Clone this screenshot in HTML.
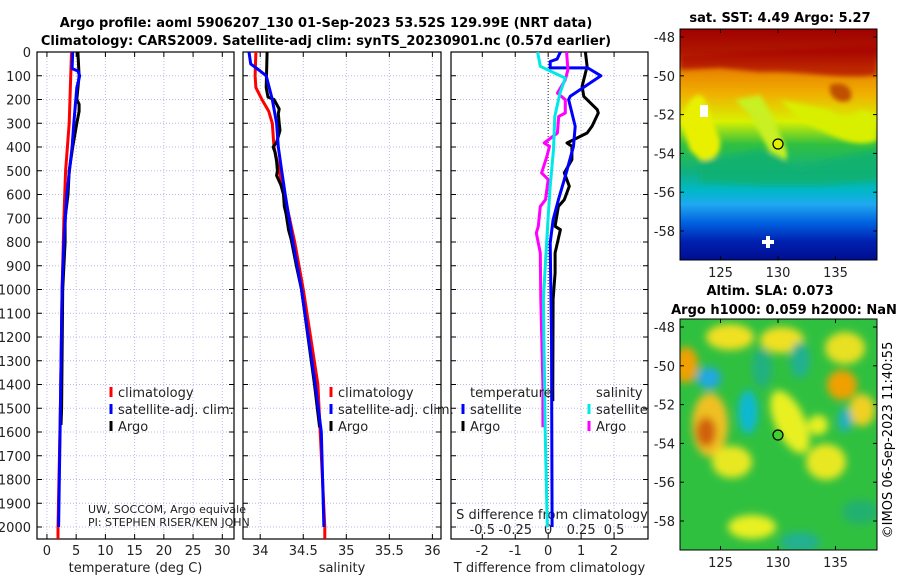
<!DOCTYPE html>
<html><head><meta charset="utf-8"><style>
body{margin:0;background:#fff}
svg{display:block;font-family:"DejaVu Sans","Liberation Sans",sans-serif}
</style></head><body>
<svg id="chart" width="900" height="580" viewBox="0 0 900 580" xmlns="http://www.w3.org/2000/svg">
<defs>
<linearGradient id="sstg" x1="0" y1="0" x2="0" y2="1">
<stop offset="0" stop-color="#a00000"/><stop offset="0.1" stop-color="#b01800"/>
<stop offset="0.17" stop-color="#e88000"/><stop offset="0.28" stop-color="#f0b000"/>
<stop offset="0.4" stop-color="#d8f000"/><stop offset="0.5" stop-color="#30c040"/>
<stop offset="0.62" stop-color="#10b080"/><stop offset="0.7" stop-color="#00b8c8"/>
<stop offset="0.76" stop-color="#20a8f0"/><stop offset="0.84" stop-color="#0060e0"/>
<stop offset="0.92" stop-color="#0020b0"/><stop offset="1" stop-color="#000e90"/>
</linearGradient>
<filter id="blur"><feGaussianBlur stdDeviation="4"/></filter>
<filter id="blur2"><feGaussianBlur stdDeviation="2.5"/></filter>
<clipPath id="c1"><rect x="680" y="29" width="197" height="231"/></clipPath>
<clipPath id="c2"><rect x="680" y="319" width="197" height="231"/></clipPath>
</defs>
<g id="plots"></g>
<!-- SST map -->
<g clip-path="url(#c1)">
<rect x="680" y="29" width="197" height="231" fill="url(#sstg)"/>
<g filter="url(#blur2)">
<path d="M680,55 L877,45 L877,75 C840,80 800,70 760,72 L720,68 L680,70 Z" fill="#a80800" opacity="0.7"/>
<path d="M830,85 C845,80 855,90 850,100 C840,105 828,98 830,85 Z" fill="#c05000"/>
<path d="M680,120 C690,95 700,90 705,100 L720,140 C722,155 712,162 700,160 L690,150 Z" fill="#e8f000"/>
<path d="M735,100 L760,95 L775,120 C780,140 790,150 786,160 L770,152 L750,115 Z" fill="#c8f020"/>
<path d="M780,100 L830,110 C840,120 850,120 860,110 L877,115 L877,140 C860,148 840,140 820,130 L800,120 Z" fill="#d8f000"/>
<path d="M700,162 L760,150 L800,170 L830,160 L877,150 L877,180 L820,185 L760,185 L700,182 Z" fill="#10b070" opacity="0.8"/>
</g>
<rect x="700" y="105" width="8" height="12" fill="#fff"/>
<rect x="766" y="236" width="4" height="12" fill="#fff"/><rect x="762" y="240" width="12" height="4" fill="#fff"/>
<circle cx="778" cy="144" r="5" fill="#e0f000" stroke="#000" stroke-width="1.2"/>
</g>
<rect x="680" y="29" width="197" height="231" fill="none" stroke="#000"/>
<!-- SLA map -->
<g clip-path="url(#c2)">
<rect x="680" y="319" width="197" height="231" fill="#30c040"/>
<g filter="url(#blur)">
<ellipse cx="730" cy="337" rx="24" ry="13" fill="#f0e020"/>
<ellipse cx="782" cy="340" rx="22" ry="13" fill="#f0e020"/>
<ellipse cx="845" cy="348" rx="20" ry="16" fill="#e8e020"/>
<ellipse cx="686" cy="365" rx="12" ry="18" fill="#f0a000"/>
<ellipse cx="709" cy="378" rx="12" ry="11" fill="#20a8e0"/>
<ellipse cx="762" cy="368" rx="10" ry="20" fill="#20b080"/>
<ellipse cx="800" cy="360" rx="10" ry="18" fill="#20b090"/>
<ellipse cx="842" cy="385" rx="15" ry="15" fill="#f0a000"/>
<ellipse cx="862" cy="410" rx="13" ry="16" fill="#f0d020"/>
<ellipse cx="710" cy="425" rx="18" ry="32" fill="#f0c020"/>
<ellipse cx="706" cy="432" rx="10" ry="15" fill="#d06010"/>
<ellipse cx="748" cy="412" rx="10" ry="22" fill="#10b8d0"/>
<ellipse cx="790" cy="422" rx="15" ry="34" fill="#e8f020" transform="rotate(-25 790 422)"/>
<ellipse cx="826" cy="462" rx="20" ry="18" fill="#e8e820"/>
<ellipse cx="732" cy="462" rx="20" ry="16" fill="#e8e820"/>
<ellipse cx="845" cy="420" rx="7" ry="12" fill="#20b0c0"/>
<ellipse cx="818" cy="425" rx="10" ry="10" fill="#e8f020"/>
<ellipse cx="752" cy="527" rx="24" ry="12" fill="#e8f020"/>
<ellipse cx="800" cy="542" rx="20" ry="10" fill="#20b090"/>
<ellipse cx="860" cy="512" rx="18" ry="12" fill="#20b070"/>
</g>
<circle cx="778" cy="435" r="5" fill="#40d030" stroke="#000" stroke-width="1.2"/>
</g>
<rect x="680" y="319" width="197" height="231" fill="none" stroke="#000"/>
<g font-size="13" font-weight="bold" text-anchor="middle">
<text x="326" y="27">Argo profile: aoml 5906207_130 01-Sep-2023 53.52S 129.99E (NRT data)</text>
<text x="326" y="45">Climatology: CARS2009. Satellite-adj clim: synTS_20230901.nc (0.57d earlier)</text>
<text x="780" y="22">sat. SST: 4.49 Argo: 5.27</text>
<text x="770" y="295">Altim. SLA: 0.073</text>
<text x="784" y="314">Argo h1000: 0.059 h2000: NaN</text>
</g>
<text transform="translate(892,440) rotate(-90)" font-size="13" text-anchor="middle">©IMOS 06-Sep-2023 11:40:55</text>
</svg>
<script>
// ---- data ----
const depthTicks=[0,100,200,300,400,500,600,700,800,900,1000,1100,1200,1300,1400,1500,1600,1700,1800,1900,2000];
const tTicks=[0,5,10,15,20,25,30];
const sTicks=[34,34.5,35,35.5,36];
const dTTicks=[-2,-1,0,1,2];
const dSTicks=[-0.5,-0.25,0,0.25,0.5];
const dSTickLabels=["-0.5","-0.25","0","0.25","0.5"];
const climTdep=[0,300,500,700,1000,1500,2000,2050];
const climT=[4.2,3.8,3.2,2.9,2.6,2.3,1.9,1.9];
const satTdep=[0,70,80,100,150,300,400,600,800,1000,1500,2000];
const satT=[4.4,4.3,5.3,5.6,5.1,4.6,4.3,3.4,2.9,2.6,2.3,2.0];
const argoTdep=[0,100,200,220,250,300,400,500,600,700,800,1000,1500,1570];
const argoT=[5.3,5.5,5.1,5.5,5.5,5.1,4.4,3.8,3.6,3.1,3.1,2.7,2.5,2.4];
const climSdep=[0,100,150,200,250,300,400,500,600,700,800,900,1000,1400,2000,2050];
const climS=[33.95,33.94,33.95,34.02,34.1,34.14,34.16,34.22,34.28,34.34,34.4,34.45,34.5,34.67,34.75,34.75];
const satSdep=[0,50,80,100,200,300,400,500,600,800,1000,1400,1600,2000];
const satS=[33.87,33.89,34.0,34.07,34.14,34.19,34.21,34.25,34.29,34.38,34.48,34.64,34.71,34.74];
const argoSdep=[0,150,190,200,240,260,300,330,380,400,420,460,500,520,560,600,650,680,750,790,900,1000,1400,1580];
const argoS=[34.08,34.07,34.09,34.16,34.22,34.21,34.22,34.23,34.19,34.15,34.17,34.19,34.2,34.19,34.24,34.27,34.28,34.3,34.33,34.36,34.42,34.48,34.63,34.69];
const satdTdep=[0,30,40,67,67,100,186,200,313,397,523,622,706,804,1200,2000];
const satdT=[0.37,0.27,0.06,0.06,1.2,1.6,0.67,0.62,0.82,0.77,0.52,0.31,0.15,0.06,0.1,0.12];
const argodTdep=[0,60,145,187,243,257,313,341,383,397,453,509,565,622,650,734,748,846,930,1042,1400,1470];
const argodT=[1.13,1.18,1.03,1.08,1.49,1.52,1.33,1.18,0.57,0.72,0.72,0.49,0.64,0.49,0.31,0.21,0.37,0.21,0.21,0.15,0.14,0.14];
const satdSdep=[0,60,110,173,271,411,565,692,833,1042,1600,2000];
const satdS=[-0.08,-0.06,0.13,0.09,0.05,0.04,0.015,0.0,-0.015,-0.036,-0.023,-0.007];
const argodSdep=[0,75,117,145,173,187,201,257,271,341,383,397,439,509,537,622,650,734,762,846,1042,1400,1580];
const argodS=[0.14,0.15,0.13,0.10,0.07,0.1,0.13,0.13,0.08,0.07,-0.03,0.01,-0.01,-0.05,0.0,-0.02,-0.06,-0.075,-0.09,-0.06,-0.056,-0.04,-0.04];
const latTicks=[-48,-50,-52,-54,-56,-58];
const lonTicks=[125,130,135];

// ---- axes ----
const NS="http://www.w3.org/2000/svg";
const g=document.getElementById('plots');
const Y0=52, PXM=0.2375, BOT=539;
const yD=d=>Y0+d*PXM;
function mk(tag,at,parent){const e=document.createElementNS(NS,tag);for(const k in at)e.setAttribute(k,at[k]);(parent||g).appendChild(e);return e;}
const panels=[
 {x0:37,x1:234,v0:-1.7,v1:32,ticks:tTicks,labels:tTicks.map(String),title:"temperature (deg C)",name:"temperature-panel"},
 {x0:243,x1:441,v0:33.8,v1:36.1,ticks:sTicks,labels:["34","34.5","35","35.5","36"],title:"salinity",name:"salinity-panel"},
 {x0:451,x1:648,v0:-2.95,v1:3.03,ticks:dTTicks,labels:dTTicks.map(String),title:"T difference from climatology",name:"difference-panel"}
];
panels.forEach(p=>{p.x=v=>p.x0+(v-p.v0)/(p.v1-p.v0)*(p.x1-p.x0);});
const P3=panels[2];
const xS=v=>P3.x(v*4);
panels.forEach((p,pi)=>{
 const pg=mk('g',{});
 
 
 const grid=mk('g',{stroke:'#b8b8e8','stroke-width':1,'stroke-dasharray':'1,2'},pg);
 
 
 depthTicks.forEach(d=>mk('line',{x1:p.x0,x2:p.x1,y1:yD(d),y2:yD(d)},grid));
 p.ticks.forEach(v=>mk('line',{x1:p.x(v),x2:p.x(v),y1:Y0,y2:BOT},grid));
 const tk=mk('g',{stroke:'#000','stroke-width':1},pg);
 depthTicks.forEach(d=>{mk('line',{x1:p.x0,x2:p.x0+5,y1:yD(d),y2:yD(d)},tk);mk('line',{x1:p.x1-5,x2:p.x1,y1:yD(d),y2:yD(d)},tk);});
 p.ticks.forEach(v=>{mk('line',{x1:p.x(v),x2:p.x(v),y1:BOT,y2:BOT-5},tk);mk('line',{x1:p.x(v),x2:p.x(v),y1:Y0,y2:Y0+5},tk);});
 mk('rect',{x:p.x0,y:Y0,width:p.x1-p.x0,height:BOT-Y0,fill:'none',stroke:'#000','stroke-width':1.2},pg);
 p.ticks.forEach((v,i)=>{const t=mk('text',{x:p.x(v),y:555,'font-size':13,'text-anchor':'middle',fill:'#222'},pg);t.textContent=p.labels[i];
  
  });
 const tt=mk('text',{x:(p.x0+p.x1)/2,y:572,'font-size':13,'text-anchor':'middle',fill:'#222'},pg);tt.textContent=p.title;
 
 
});
depthTicks.forEach(d=>{const t=mk('text',{x:31,y:yD(d)+5,'font-size':13,'text-anchor':'end',fill:'#222'});t.textContent=d;
 
 });
const zl=mk('line',{x1:P3.x(0),x2:P3.x(0),y1:Y0,y2:BOT,stroke:'#333','stroke-dasharray':'1,2'});


dSTicks.forEach((v,i)=>{const t=mk('text',{x:xS(v),y:534,'font-size':13,'text-anchor':'middle',fill:'#222'});t.textContent=dSTickLabels[i];
 
 });
const st=mk('text',{x:552,y:519,'font-size':13,'text-anchor':'middle',fill:'#222'});st.textContent="S difference from climatology";


function line(deps,vals,xf,color,name){
 const pts=deps.map((d,i)=>xf(vals[i]).toFixed(1)+','+yD(d).toFixed(1)).join(' ');
 const e=mk('polyline',{points:pts,fill:'none',stroke:color,'stroke-width':3,'stroke-linejoin':'round'});
 
 
}
const xT=panels[0].x, xSal=panels[1].x, xdT=P3.x;
line(climTdep,climT,xT,'#f00','temp-climatology-line');
line(argoTdep,argoT,xT,'#000','temp-argo-line');
line(satTdep,satT,xT,'#0000ff','temp-satellite-line');
line(climSdep,climS,xSal,'#f00','sal-climatology-line');
line(argoSdep,argoS,xSal,'#000','sal-argo-line');
line(satSdep,satS,xSal,'#0000ff','sal-satellite-line');
line(argodTdep,argodT,xdT,'#000','dT-argo-line');
line(satdTdep,satdT,xdT,'#0000ff','dT-satellite-line');
line(argodSdep,argodS,xS,'#ff00ff','dS-argo-line');
line(satdSdep,satdS,xS,'#00e8e8','dS-satellite-line');
function leg(x,y,color,label){
 if(color){const m=mk('line',{x1:x,x2:x,y1:y-10,y2:y,stroke:color,'stroke-width':3});
  
  }
 const t=mk('text',{x:x+7,y:y,'font-size':13,fill:'#222'});t.textContent=label;
 
 
}
[[ '#f00','climatology'],['#0000ff','satellite-adj. clim.'],['#000','Argo']].forEach((e,i)=>{leg(111,397+i*17,e[0],e[1]);leg(331,397+i*17,e[0],e[1]);});
leg(463,397,null,'temperature');leg(589,397,null,'salinity');
leg(463,414,'#0000ff','satellite');leg(463,431,'#000','Argo');
leg(589,414,'#00e8e8','satellite');leg(589,431,'#ff00ff','Argo');
const u1=mk('text',{x:88,y:513,'font-size':11,fill:'#222'});u1.textContent="UW, SOCCOM, Argo equivale";


const u2=mk('text',{x:88,y:526,'font-size':11,fill:'#222'});u2.textContent="PI: STEPHEN RISER/KEN JOHN";


const svg=document.getElementById('chart');
[[29,260,'sst'],[319,550,'sla']].forEach(([top,bot,nm])=>{
 latTicks.forEach((la,i)=>{const y=top+8+i*38.8;
  mk('line',{x1:680,x2:684,y1:y,y2:y,stroke:'#000'},svg);mk('line',{x1:873,x2:877,y1:y,y2:y,stroke:'#000'},svg);
  const t=mk('text',{x:675,y:y+5,'font-size':13,'text-anchor':'end',fill:'#222'},svg);t.textContent=la;
  
  });
 lonTicks.forEach(lo=>{const x=778+(lo-130)*11.5;
  mk('line',{x1:x,x2:x,y1:bot,y2:bot-4,stroke:'#000'},svg);mk('line',{x1:x,x2:x,y1:top,y2:top+4,stroke:'#000'},svg);
  const t=mk('text',{x:x,y:bot+17,'font-size':13,'text-anchor':'middle',fill:'#222'},svg);t.textContent=lo;
  
  });
});
</script>
</body></html>
